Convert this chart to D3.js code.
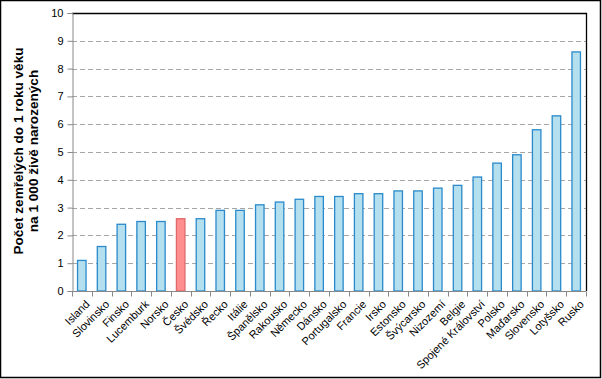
<!DOCTYPE html>
<html>
<head>
<meta charset="utf-8">
<script src="https://cdn.jsdelivr.net/npm/d3@7"></script>
<style>
  body { margin: 0; background: #fff; }
  svg { display: block; font-family: Arial, "Liberation Sans", sans-serif; }
</style>
</head>
<body>
<svg id="chart" width="602" height="379"></svg>
<script>
const countries = ["Island", "Slovinsko", "Finsko", "Lucemburk", "Norsko", "Česko", "Švédsko", "Řecko",
  "Itálie", "Španělsko", "Rakousko", "Německo", "Dánsko", "Portugalsko", "Francie", "Irsko",
  "Estonsko", "Švýcarsko", "Nizozemí", "Belgie", "Spojené Království", "Polsko", "Maďarsko",
  "Slovensko", "Lotyšsko", "Rusko"];
const values = [1.1, 1.6, 2.4, 2.5, 2.5, 2.6, 2.6, 2.9, 2.9, 3.1, 3.2, 3.3, 3.4, 3.4, 3.5, 3.5,
  3.6, 3.6, 3.7, 3.8, 4.1, 4.6, 4.9, 5.8, 6.3, 8.6];
const highlight = "Česko";
const yTicks = [0, 1, 2, 3, 4, 5, 6, 7, 8, 9, 10];
const yTitle = ["Počet zemřelých do 1 roku věku", "na 1 000 živě narozených"];

const width = 602, height = 379;
const margin = { top: 13, right: 16, bottom: 88, left: 72 };

const svg = d3.select("#chart");

// outer frame
svg.append("rect")
    .attr("x", 0.5).attr("y", 0.5)
    .attr("width", width - 2).attr("height", height - 2)
    .attr("fill", "#fff").attr("stroke", "#000").attr("stroke-width", 1.5);

const x = d3.scaleBand()
    .domain(countries)
    .range([margin.left, width - margin.right])
    .paddingInner(0.57)
    .paddingOuter(0.28);

const y = d3.scaleLinear()
    .domain([0, 10])
    .range([height - margin.bottom, margin.top]);

// gridlines
svg.append("g")
    .selectAll("line")
    .data(yTicks.filter(d => d > 0 && d < 10))
    .enter().append("line")
    .attr("x1", margin.left)
    .attr("x2", width - margin.right)
    .attr("y1", d => Math.round(y(d)) + 0.5)
    .attr("y2", d => Math.round(y(d)) + 0.5)
    .attr("stroke", "#a6a6a6")
    .attr("stroke-dasharray", "5,3");

// top and right border of plot area
svg.append("path")
    .attr("d", `M${margin.left},${margin.top + 0.5}H${width - margin.right + 0.5}V${height - margin.bottom}`)
    .attr("fill", "none")
    .attr("stroke", "#000")
    .attr("stroke-width", 1.3);

// bars
svg.append("g")
    .selectAll("rect")
    .data(countries)
    .enter().append("rect")
    .attr("x", d => x(d))
    .attr("y", (d, i) => y(values[i]))
    .attr("width", x.bandwidth())
    .attr("height", (d, i) => y(0) - y(values[i]))
    .attr("fill", d => d === highlight ? "#ff8f8f" : "#b4dfee")
    .attr("stroke", d => d === highlight ? "#e06a6a" : "#2a8acb")
    .attr("stroke-width", 1.3);

// y axis
const yAxis = svg.append("g")
    .attr("transform", `translate(${margin.left + 0.5},0)`)
    .call(d3.axisLeft(y).tickValues(yTicks).tickSize(5).tickPadding(4).tickFormat(d3.format("d")));
yAxis.select(".domain").attr("stroke", "#888");
yAxis.selectAll(".tick line").attr("stroke", "#888");
yAxis.selectAll("text").attr("font-size", 11).attr("fill", "#000");

// x axis with ticks between categories
const xAxis = svg.append("g")
    .attr("transform", `translate(0,${Math.round(y(0)) + 0.5})`);
xAxis.append("line")
    .attr("x1", margin.left).attr("x2", width - margin.right)
    .attr("stroke", "#888");
const bounds = d3.range(countries.length + 1).map(i => margin.left + i * (width - margin.left - margin.right) / countries.length);
xAxis.selectAll(".sep")
    .data(bounds)
    .enter().append("line")
    .attr("x1", d => Math.round(d) + 0.5).attr("x2", d => Math.round(d) + 0.5)
    .attr("y1", 0).attr("y2", 5)
    .attr("stroke", "#888");
xAxis.selectAll(".lbl")
    .data(countries)
    .enter().append("text")
    .attr("transform", d => `translate(${x(d) + x.bandwidth() / 2 + 3},${8}) rotate(-45)`)
    .attr("text-anchor", "end")
    .attr("dy", "0.7em")
    .attr("font-size", 11)
    .text(d => d);

// y axis title
const title = svg.append("text")
    .attr("transform", `translate(${23},${151}) rotate(-90)`)
    .attr("text-anchor", "middle")
    .attr("font-size", 13.6)
    .attr("font-weight", "bold");
title.selectAll("tspan")
    .data(yTitle)
    .enter().append("tspan")
    .attr("x", 0)
    .attr("dy", (d, i) => i === 0 ? 0 : 15)
    .text(d => d);
</script>
</body>
</html>
